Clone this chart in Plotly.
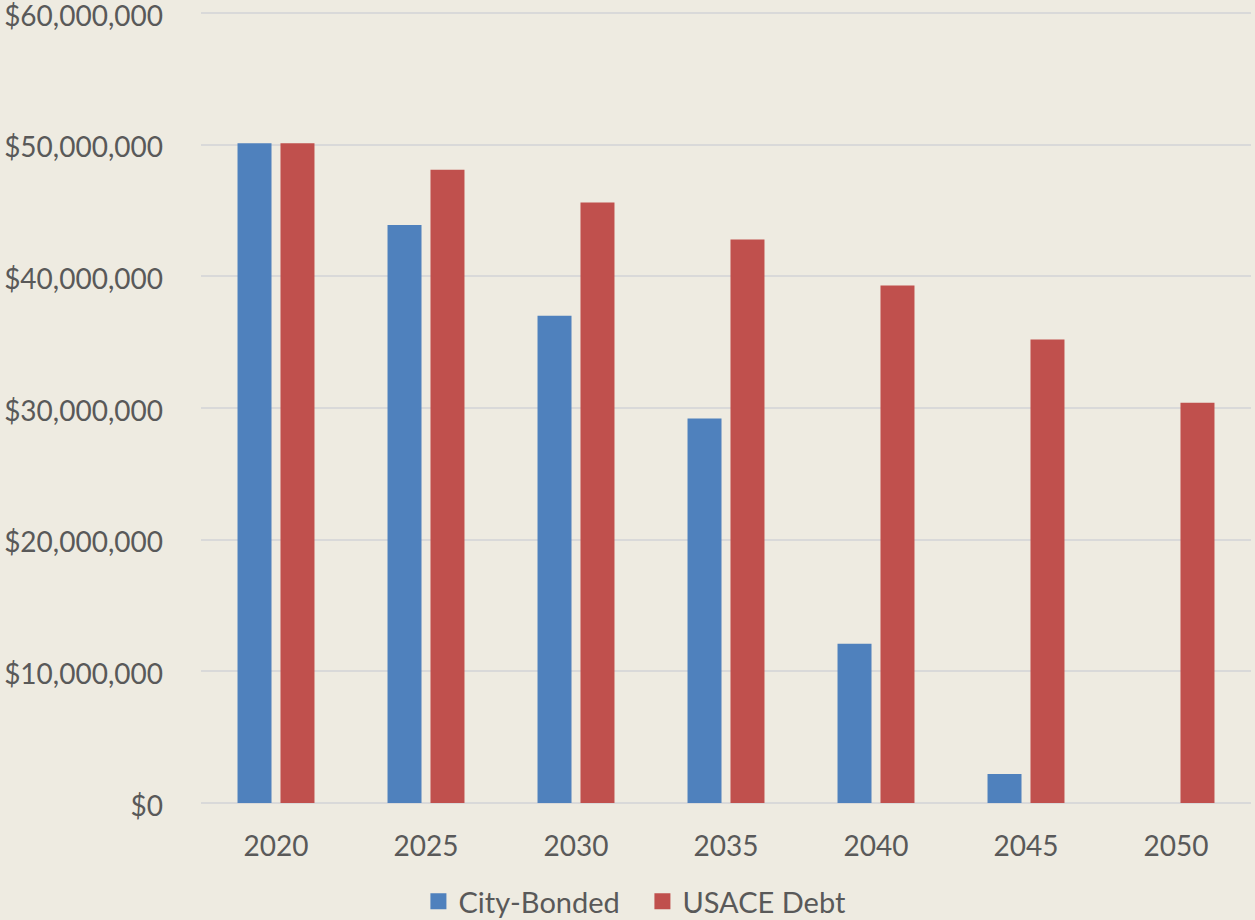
import plotly.graph_objects as go

years = ["2020", "2025", "2030", "2035", "2040", "2045", "2050"]
city_bonded = [50.1e6, 43.9e6, 37.0e6, 29.2e6, 12.1e6, 2.2e6, 0]
usace_debt = [50.1e6, 48.1e6, 45.6e6, 42.8e6, 39.3e6, 35.2e6, 30.4e6]
series_names = ["City-Bonded", "USACE Debt"]
series_colors = ["#4F81BD", "#C0504D"]
y_ticks = [0, 10e6, 20e6, 30e6, 40e6, 50e6, 60e6]
y_tick_labels = ["$0", "$10,000,000", "$20,000,000", "$30,000,000",
                 "$40,000,000", "$50,000,000", "$60,000,000"]

font_family = "Lato, 'Open Sans', sans-serif"
text_color = "#595959"
bg = "#EEEBE1"

fig = go.Figure()
for name, vals, col in zip(series_names, [city_bonded, usace_debt], series_colors):
    fig.add_trace(go.Bar(name=name, x=years, y=vals, showlegend=False,
                         marker=dict(color=col, line=dict(width=0))))
# legend entries with larger square swatches
for name, col in zip(series_names, series_colors):
    fig.add_trace(go.Scatter(name=name, x=[None], y=[None], mode="markers",
                             marker=dict(symbol="square", size=18, color=col),
                             showlegend=True))

fig.update_layout(
    width=1255, height=920,
    paper_bgcolor=bg, plot_bgcolor=bg,
    barmode="group", bargap=0.427, bargroupgap=0.209,
    margin=dict(l=201, r=4, t=6, b=117, pad=0, autoexpand=False),
    font=dict(family=font_family, color=text_color, size=25),
    showlegend=True,
    legend=dict(orientation="h", xref="container", yref="paper",
                x=0.3334, xanchor="left", y=-0.1235, yanchor="middle",
                entrywidth=179, entrywidthmode="pixels",
                font=dict(size=29, color=text_color),
                traceorder="normal", bgcolor="rgba(0,0,0,0)"),
    xaxis=dict(showgrid=False, showline=False, ticks="", tickfont=dict(size=28),
               ticklabelstandoff=24, automargin=False),
    yaxis=dict(range=[0, 60.53e6], tickvals=y_ticks, ticktext=y_tick_labels,
               showgrid=True, gridcolor="#D9D9D9", gridwidth=2,
               zeroline=True, zerolinecolor="#D9D9D9", zerolinewidth=2,
               showline=False, ticks="", tickfont=dict(size=28),
               ticklabeloverflow="allow", ticklabelstandoff=37,
               ticklabelshift=3, automargin=False),
)

fig.write_html("out.html", config={"displayModeBar": False},
               post_script="document.body.style.margin='0';document.body.style.overflow='hidden';")
